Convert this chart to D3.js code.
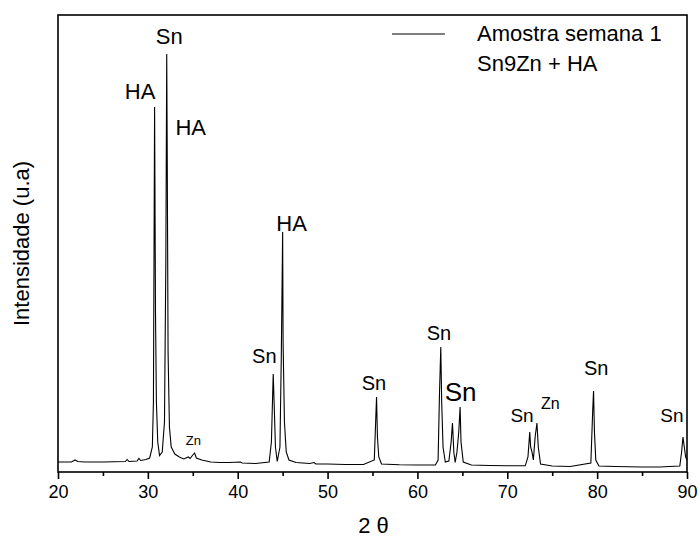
<!DOCTYPE html>
<html>
<head>
<meta charset="utf-8">
<script src="https://cdn.jsdelivr.net/npm/d3@7"></script>
<style>
  html, body { margin: 0; padding: 0; background: #fff; }
  svg { display: block; font-family: "Liberation Sans", Arial, sans-serif; }
</style>
</head>
<body>
<svg id="chart" width="700" height="540"></svg>
<script>
// ---- data (2θ in degrees, intensity in arbitrary units) ----
const twoTheta = [
  20.0, 21.5, 21.9, 22.2, 23.0, 25.0, 27.5, 27.7, 27.9, 28.8, 29.0, 29.2, 29.8, 30.2, 30.5, 30.62,
  30.75, 30.85, 30.95, 31.1, 31.3, 31.6, 31.85, 32.0, 32.1, 32.15, 32.25, 32.4, 32.6, 33.0, 33.5,
  34.0, 34.5, 34.7, 35.0, 35.2, 35.4, 36.0, 37.0, 38.0, 39.0, 40.3, 40.5, 42.0, 43.5, 43.75, 43.95,
  44.05, 44.2, 44.4, 44.7, 44.85, 45.0, 45.05, 45.2, 45.4, 45.7, 46.5, 48.0, 48.5, 48.7, 50.0, 52.0,
  54.0, 55.2, 55.35, 55.45, 55.55, 55.7, 56.0, 58.0, 60.0, 62.0, 62.3, 62.45, 62.6, 62.7, 62.85,
  63.1, 63.5, 63.75, 63.9, 64.05, 64.2, 64.4, 64.6, 64.75, 64.85, 65.1, 66.0, 68.0, 70.0, 72.0,
  72.3, 72.5, 72.6, 72.75, 72.9, 73.1, 73.3, 73.45, 73.7, 75.0, 77.0, 79.3, 79.5, 79.6, 79.7,
  79.85, 80.2, 82.0, 85.0, 87.0, 88.0, 89.2, 89.4, 89.55, 89.7, 89.85, 90.0
];
const intensity = [
  100, 100, 120, 105, 100, 100, 105, 125, 105, 110, 135, 115, 125, 140, 250, 700,
  3650, 1600, 700, 300, 165, 200, 500, 2100, 4180, 3290, 1200, 450, 250, 180, 150,
  130, 150, 135, 170, 190, 140, 120, 100, 95, 95, 100, 90, 85, 100, 300, 980,
  700, 250, 105, 250, 1150, 2400, 1300, 500, 200, 120, 95, 85, 95, 80, 80, 75,
  75, 120, 500, 750, 350, 150, 80, 72, 70, 70, 120, 760, 1250, 700, 250,
  100, 110, 300, 490, 200, 95, 200, 400, 650, 300, 100, 70, 65, 62, 62,
  150, 400, 250, 200, 120, 350, 490, 250, 80, 60, 55, 90, 600, 810, 400,
  120, 60, 55, 50, 50, 55, 60, 200, 350, 250, 150, 120
];
const xTicks = [20, 30, 40, 50, 60, 70, 80, 90];
const xMinorTicks = [25, 35, 45, 55, 65, 75, 85];
// peak annotations: label, 2θ, intensity, font size
const labelText = ["HA", "Sn", "HA", "Zn", "Sn", "HA", "Sn", "Sn", "Sn", "Sn", "Zn", "Sn", "Sn"];
const labelX    = [29.13, 32.39, 34.77, 35.06, 42.96, 46.0, 55.17, 62.4, 64.8, 71.64, 74.78, 79.9, 88.33];
const labelY    = [3730, 4280, 3370, 270, 1093, 2413, 820, 1320, 713, 503, 627, 970, 503];
const labelSize = [22, 22, 22, 13, 20, 22, 20, 20, 26, 19, 16, 20, 19];
const legendLines = ["Amostra semana 1", "Sn9Zn + HA"];

// ---- layout ----
const svg = d3.select("#chart");
const mLeft = 58, mRight = 687, mTop = 15, mBottom = 472;

const x = d3.scaleLinear().domain([20, 90]).range([mLeft, mRight]);
const y = d3.scaleLinear().domain([0, 4570]).range([mBottom, mTop]);

const points = twoTheta.map((t, i) => [t, intensity[i]]);

// spectrum
svg.append("path")
  .datum(points)
  .attr("fill", "none")
  .attr("stroke", "#000")
  .attr("stroke-width", 1.1)
  .attr("stroke-linejoin", "miter")
  .attr("d", d3.line().x(d => x(d[0])).y(d => y(d[1])));

// frame
svg.append("rect")
  .attr("x", mLeft).attr("y", mTop)
  .attr("width", mRight - mLeft).attr("height", mBottom - mTop)
  .attr("fill", "none").attr("stroke", "#000").attr("stroke-width", 1.6);

// x axis
const xAxis = d3.axisBottom(x).tickValues(xTicks).tickSize(7).tickPadding(6).tickFormat(d3.format("d"));
const gx = svg.append("g").attr("transform", `translate(0,${mBottom})`).call(xAxis);
gx.select(".domain").remove();
gx.selectAll(".tick line").attr("stroke", "#000").attr("stroke-width", 1.6);
gx.selectAll(".tick text").attr("font-size", 18).attr("fill", "#000")
  .attr("font-family", "Liberation Sans, Arial, sans-serif");

const xMinor = d3.axisBottom(x).tickValues(xMinorTicks).tickSize(4).tickFormat("");
const gxm = svg.append("g").attr("transform", `translate(0,${mBottom})`).call(xMinor);
gxm.select(".domain").remove();
gxm.selectAll(".tick line").attr("stroke", "#000").attr("stroke-width", 1.6);

// axis titles
svg.append("text")
  .attr("x", (mLeft + mRight) / 2 + 1).attr("y", 533)
  .attr("text-anchor", "middle").attr("font-size", 22).attr("fill", "#000")
  .text("2 θ");

svg.append("text")
  .attr("transform", `translate(29,${(mTop + mBottom) / 2}) rotate(-90)`)
  .attr("text-anchor", "middle").attr("font-size", 22).attr("fill", "#000")
  .text("Intensidade (u.a)");

// peak labels
svg.append("g").selectAll("text")
  .data(labelText)
  .join("text")
  .attr("x", (d, i) => x(labelX[i]))
  .attr("y", (d, i) => y(labelY[i]))
  .attr("text-anchor", "middle")
  .attr("font-size", (d, i) => labelSize[i])
  .attr("fill", "#000")
  .text(d => d);

// legend
svg.append("line")
  .attr("x1", 392).attr("x2", 445).attr("y1", 34).attr("y2", 34)
  .attr("stroke", "#000").attr("stroke-width", 1.1);
svg.append("g").selectAll("text")
  .data(legendLines)
  .join("text")
  .attr("x", 477)
  .attr("y", (d, i) => 41 + i * 30)
  .attr("font-size", 22)
  .attr("fill", "#000")
  .text(d => d);
</script>
</body>
</html>
